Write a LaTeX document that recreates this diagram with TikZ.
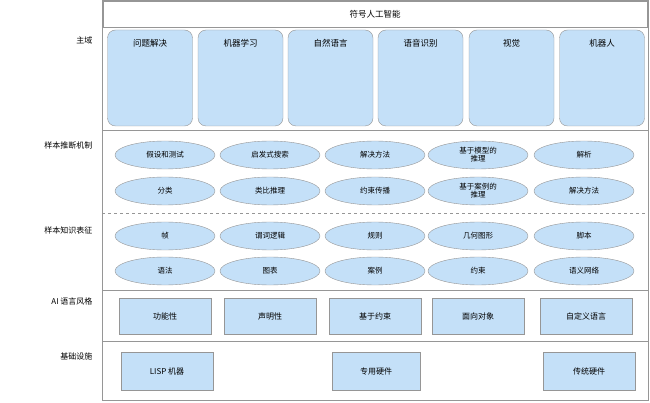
\documentclass[tikz,border=0pt]{standalone}
\usepackage{fontspec}
\setmainfont{Noto Sans CJK SC}
\usetikzlibrary{calc}
\usetikzlibrary{shapes.geometric}
\definecolor{boxBlue}{RGB}{196, 224, 248}
\definecolor{edgeGray}{RGB}{150, 150, 150}

\tikzset{
  domainbox/.style={draw=edgeGray, fill=boxBlue, rounded corners=8pt,
                    minimum width=85pt, minimum height=96pt},
  mechoval/.style={draw=edgeGray, fill=boxBlue, ellipse, minimum width=100pt,
                   minimum height=28pt, inner sep=0pt, align=center,
                   font=\fontsize{7.5}{8}\selectfont},
  langbox/.style={draw=edgeGray, fill=boxBlue, minimum width=92pt,
                  minimum height=36pt, font=\fontsize{8}{9}\selectfont},
  rowlabel/.style={anchor=east, font=\fontsize{8}{9}\selectfont}
}

\begin{document}
\begin{tikzpicture}[x=1pt, y=-1pt]
      \useasboundingbox (0,0) rectangle (650,403);
      \draw [edgeGray] (102,0) rectangle (648,400);
      \node [draw=edgeGray, minimum width=544pt, minimum height=26pt,
             font=\fontsize{8.5}{9}\selectfont] (title) at (375,14) {符号人工智能};

      % domains
      \foreach \name/\x [count=\i] in {问题解决/150, 机器学习/240.5, 自然语言/330.5,
                                       语音识别/420.5, 视觉/511.5, 机器人/602} {
        \node [domainbox] (dom\i) at (\x,78) {};
        \node [font=\fontsize{8.5}{9}\selectfont] at ($(dom\i.north)+(0,13)$) {\name};
      }
      \node [rowlabel] (main) at (96,40) {主域};

      \draw [edgeGray] (102,130) -- (648,130);
      \draw [edgeGray, dashed] (102,213) -- (648,213);
      \draw [edgeGray] (102,290) -- (648,290);
      \draw [edgeGray] (102,341) -- (648,341);

      % reasoning
      \foreach \txt/\x [count=\i] in {假设和测试/165, 启发式搜索/270, 解决方法/375,
                                      基于模型的\\推理/478, 解析/584}
        \node [mechoval] (reasA\i) at (\x,155) {\txt};
      \foreach \txt/\x [count=\i] in {分类/165, 类比推理/270, 约束传播/375,
                                      基于案例的\\推理/478, 解决方法/584}
        \node [mechoval] (reasB\i) at (\x,191) {\txt};
      \node [rowlabel] (reason) at (96,145) {样本推断机制};

      % knowledge
      \foreach \txt/\x [count=\i] in {帧/165, 谓词逻辑/270, 规则/375, 几何图形/478, 脚本/584}
        \node [mechoval] (knowA\i) at (\x,236) {\txt};
      \foreach \txt/\x [count=\i] in {语法/165, 图表/270, 案例/375, 约束/478, 语义网络/584}
        \node [mechoval] (knowB\i) at (\x,271) {\txt};
      \node [rowlabel] (know) at (96,230) {样本知识表征};

      % language styles
      \foreach \txt/\x [count=\i] in {功能性/165, 声明性/270, 基于约束/375,
                                      面向对象/478, 自定义语言/586}
        \node [langbox] (lang\i) at (\x,316) {\txt};
      \node [rowlabel] (style) at (96,301) {AI 语言风格};

      % infrastructure
      \node [langbox, minimum height=38pt] (lisp) at (167,371) {LISP 机器};
      \node [langbox, minimum width=88pt, minimum height=38pt] (special) at (376,371) {专用硬件};
      \node [langbox, minimum height=38pt] (legacy) at (589,371) {传统硬件};
      \node [rowlabel] (infra) at (96,356) {基础设施};
\end{tikzpicture}
\end{document}
